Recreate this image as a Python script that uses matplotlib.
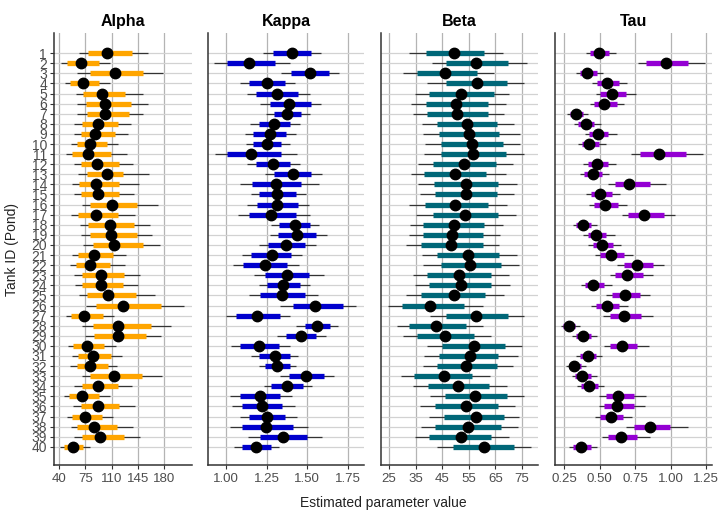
import matplotlib
matplotlib.use("Agg")
import matplotlib.pyplot as plt
import numpy as np

plt.rcParams['font.family'] = ['Liberation Sans', 'DejaVu Sans']

tanks = list(range(1, 41))

# Alpha: median, 50% and 95% intervals
alpha_med = [103.6, 69.3, 114.7, 72.0, 97.8, 101.8, 101.8, 92.4, 88.0, 81.8,
             79.1, 91.1, 103.6, 89.8, 91.6, 110.2, 88.9, 108.0, 108.9, 113.3,
             87.1, 81.8, 96.0, 96.0, 104.9, 125.8, 73.8, 119.1, 118.2, 77.3,
             85.3, 81.8, 112.9, 91.6, 70.2, 91.6, 74.7, 87.1, 94.7, 59.1]
alpha_lo50 = [78.2, 50.2, 81.3, 54.7, 72.4, 75.6, 76.9, 70.2, 68.9, 64.4,
              57.3, 68.9, 76.9, 66.7, 69.8, 81.3, 65.3, 79.1, 81.3, 85.8,
              65.8, 62.7, 71.1, 71.1, 77.8, 89.3, 56.0, 84.9, 87.1, 58.2,
              65.3, 63.6, 81.3, 70.2, 53.3, 69.3, 56.9, 64.4, 70.2, 47.1]
alpha_hi50 = [136.9, 93.3, 152.4, 93.3, 128.4, 136.0, 133.3, 118.2, 114.7, 103.6,
              109.3, 119.6, 125.8, 120.4, 120.4, 144.4, 118.2, 140.0, 143.6, 152.4,
              111.6, 108.0, 126.7, 125.8, 142.7, 176.0, 99.1, 162.7, 156.0, 100.4,
              108.9, 105.8, 150.2, 119.1, 93.3, 120.4, 96.9, 117.8, 127.1, 72.4]
alpha_lo95 = [66.7, 42.7, 63.6, 48.0, 62.7, 64.4, 64.4, 60.0, 60.0, 56.0,
              48.9, 60.0, 64.9, 56.9, 60.0, 70.2, 56.0, 68.0, 68.9, 72.4,
              56.9, 54.7, 60.0, 60.9, 67.1, 76.0, 49.3, 71.1, 74.7, 51.6,
              56.9, 54.7, 70.2, 60.0, 47.1, 59.1, 50.2, 55.6, 60.0, 41.3]
alpha_hi95 = [158.2, 108.0, 178.0, 108.0, 151.6, 158.0, 151.6, 135.6, 132.4, 118.2,
              130.2, 139.1, 160.0, 145.8, 140.0, 172.4, 141.3, 161.3, 164.4, 173.8,
              129.3, 128.0, 148.0, 144.9, 168.0, 206.7, 113.8, 188.9, 176.0, 116.0,
              123.6, 116.9, 176.9, 136.9, 108.0, 141.3, 112.4, 138.2, 148.0, 81.3]

# Kappa
kappa_med = [1.405, 1.143, 1.515, 1.252, 1.315, 1.387, 1.376, 1.299, 1.270, 1.254,
             1.157, 1.288, 1.411, 1.309, 1.315, 1.315, 1.280, 1.427, 1.436, 1.370,
             1.282, 1.241, 1.374, 1.354, 1.346, 1.548, 1.194, 1.562, 1.464, 1.202,
             1.301, 1.315, 1.495, 1.376, 1.213, 1.223, 1.256, 1.249, 1.354, 1.188]
kappa_lo50 = [1.290, 1.010, 1.403, 1.143, 1.184, 1.270, 1.294, 1.202, 1.168, 1.164,
              1.004, 1.184, 1.294, 1.162, 1.204, 1.194, 1.141, 1.327, 1.321, 1.260,
              1.157, 1.106, 1.239, 1.256, 1.209, 1.413, 1.061, 1.485, 1.368, 1.086,
              1.204, 1.243, 1.389, 1.280, 1.086, 1.102, 1.143, 1.102, 1.209, 1.102]
kappa_hi50 = [1.526, 1.300, 1.634, 1.362, 1.446, 1.526, 1.464, 1.397, 1.368, 1.342,
              1.337, 1.393, 1.526, 1.464, 1.429, 1.446, 1.434, 1.519, 1.556, 1.487,
              1.399, 1.376, 1.511, 1.458, 1.487, 1.720, 1.331, 1.642, 1.556, 1.325,
              1.393, 1.393, 1.601, 1.474, 1.331, 1.348, 1.366, 1.413, 1.499, 1.280]
kappa_lo95 = [1.229, 0.928, 1.342, 1.090, 1.133, 1.209, 1.249, 1.147, 1.117, 1.121,
              0.933, 1.131, 1.239, 1.086, 1.153, 1.127, 1.072, 1.280, 1.270, 1.204,
              1.100, 1.041, 1.172, 1.204, 1.143, 1.335, 1.000, 1.434, 1.315, 1.031,
              1.157, 1.204, 1.335, 1.235, 1.025, 1.035, 1.086, 1.025, 1.137, 1.051]
kappa_hi95 = [1.587, 1.393, 1.695, 1.423, 1.519, 1.587, 1.515, 1.454, 1.434, 1.397,
              1.438, 1.458, 1.593, 1.571, 1.491, 1.511, 1.519, 1.571, 1.624, 1.552,
              1.470, 1.448, 1.601, 1.515, 1.566, 1.802, 1.397, 1.689, 1.618, 1.397,
              1.446, 1.429, 1.663, 1.528, 1.407, 1.423, 1.440, 1.505, 1.593, 1.327]

# Beta
beta_med = [49.6, 57.7, 46.2, 58.0, 51.9, 50.2, 50.4, 54.2, 55.1, 56.1,
            56.7, 53.2, 49.7, 53.8, 53.8, 49.9, 53.6, 49.4, 48.8, 48.3,
            54.8, 55.5, 51.2, 52.1, 49.3, 40.5, 57.7, 42.7, 46.2, 56.8,
            55.5, 54.1, 45.6, 50.8, 57.5, 53.8, 57.6, 54.8, 52.2, 60.7]
beta_lo50 = [38.8, 46.4, 35.4, 46.4, 40.2, 38.8, 39.2, 42.9, 43.8, 44.5,
             44.5, 41.7, 38.3, 42.0, 42.3, 38.5, 41.7, 37.9, 37.7, 36.9,
             42.9, 44.4, 39.4, 40.2, 36.9, 29.8, 46.4, 32.5, 35.7, 45.0,
             43.9, 42.9, 34.4, 39.8, 46.0, 42.3, 45.7, 42.3, 40.2, 48.9]
beta_hi50 = [60.8, 69.9, 58.0, 69.5, 64.5, 62.1, 62.1, 65.5, 66.5, 68.0,
             68.9, 65.2, 61.5, 65.9, 65.5, 62.1, 65.9, 60.8, 60.2, 60.2,
             66.5, 67.1, 63.3, 63.3, 61.1, 53.3, 69.9, 53.9, 57.0, 68.6,
             66.1, 65.5, 56.1, 62.6, 69.5, 66.1, 68.2, 67.1, 63.3, 72.1]
beta_lo95 = [32.6, 41.0, 30.4, 39.4, 34.8, 33.3, 33.9, 37.3, 37.9, 38.5,
             38.3, 36.0, 33.3, 35.8, 36.7, 32.6, 35.2, 32.9, 32.6, 31.4,
             37.3, 37.9, 34.1, 34.8, 31.4, 24.7, 40.4, 27.9, 30.4, 39.4,
             38.3, 37.7, 29.4, 34.1, 40.4, 36.7, 40.2, 36.9, 34.8, 42.9]
beta_hi95 = [67.7, 76.8, 64.5, 75.8, 70.2, 69.0, 68.2, 72.0, 74.2, 74.2,
             75.9, 71.7, 69.0, 73.0, 72.0, 69.2, 72.7, 67.7, 66.7, 66.5,
             73.0, 74.0, 70.2, 70.5, 68.2, 60.2, 75.8, 60.5, 63.2, 74.9,
             73.4, 71.5, 63.0, 69.5, 75.8, 72.4, 74.0, 73.6, 70.2, 78.3]

# Tau
tau_med = [0.496, 0.964, 0.414, 0.550, 0.586, 0.529, 0.335, 0.403, 0.487, 0.424,
           0.919, 0.482, 0.452, 0.710, 0.504, 0.536, 0.813, 0.386, 0.475, 0.518,
           0.581, 0.762, 0.696, 0.457, 0.677, 0.550, 0.673, 0.288, 0.381, 0.661,
           0.417, 0.323, 0.374, 0.426, 0.628, 0.621, 0.579, 0.856, 0.651, 0.367]
tau_lo50 = [0.433, 0.827, 0.363, 0.480, 0.504, 0.461, 0.292, 0.351, 0.428, 0.374,
            0.781, 0.417, 0.393, 0.609, 0.440, 0.464, 0.698, 0.335, 0.417, 0.452,
            0.504, 0.673, 0.609, 0.398, 0.586, 0.475, 0.574, 0.245, 0.335, 0.574,
            0.363, 0.288, 0.327, 0.370, 0.543, 0.534, 0.504, 0.745, 0.558, 0.311]
tau_hi50 = [0.567, 1.119, 0.485, 0.640, 0.687, 0.621, 0.381, 0.461, 0.562, 0.499,
            1.107, 0.562, 0.520, 0.856, 0.586, 0.633, 0.954, 0.440, 0.543, 0.597,
            0.673, 0.879, 0.804, 0.534, 0.785, 0.637, 0.792, 0.327, 0.440, 0.762,
            0.473, 0.370, 0.440, 0.492, 0.743, 0.743, 0.668, 0.996, 0.766, 0.438]
tau_lo95 = [0.403, 0.773, 0.335, 0.445, 0.473, 0.433, 0.269, 0.320, 0.398, 0.346,
            0.720, 0.386, 0.363, 0.562, 0.403, 0.428, 0.656, 0.316, 0.386, 0.421,
            0.468, 0.621, 0.574, 0.370, 0.543, 0.440, 0.527, 0.227, 0.309, 0.532,
            0.332, 0.264, 0.309, 0.344, 0.499, 0.499, 0.468, 0.684, 0.515, 0.285]
tau_hi95 = [0.614, 1.238, 0.527, 0.696, 0.755, 0.673, 0.421, 0.511, 0.621, 0.543,
            1.227, 0.616, 0.567, 0.968, 0.644, 0.691, 1.032, 0.485, 0.609, 0.651,
            0.738, 0.954, 0.879, 0.586, 0.856, 0.703, 0.879, 0.363, 0.485, 0.844,
            0.515, 0.405, 0.485, 0.534, 0.827, 0.820, 0.727, 1.121, 0.851, 0.485]

titles = ['Alpha', 'Kappa', 'Beta', 'Tau']
colors = ['#FFA500', '#0000CD', '#006778', '#9400D3']
xticks = [[40, 75, 110, 145, 180], [1.00, 1.25, 1.50, 1.75],
          [25, 35, 45, 55, 65, 75], [0.25, 0.50, 0.75, 1.00, 1.25]]
xtick_labels = [['40', '75', '110', '145', '180'], ['1.00', '1.25', '1.50', '1.75'],
                ['25', '35', '45', '55', '65', '75'], ['0.25', '0.50', '0.75', '1.00', '1.25']]
xlims = [(33.3, 217), (0.89, 1.85), (22, 81), (0.187, 1.29)]

params = [
    (alpha_med, alpha_lo50, alpha_hi50, alpha_lo95, alpha_hi95),
    (kappa_med, kappa_lo50, kappa_hi50, kappa_lo95, kappa_hi95),
    (beta_med, beta_lo50, beta_hi50, beta_lo95, beta_hi95),
    (tau_med, tau_lo50, tau_hi50, tau_lo95, tau_hi95),
]

W, H = 718, 514
fig = plt.figure(figsize=(W / 100, H / 100), dpi=100)

lefts = [54, 208, 381, 555]
rights = [192, 364, 538, 712]
top, bottom = 33, 465

y = np.array(tanks)
for i, (med, lo50, hi50, lo95, hi95) in enumerate(params):
    ax = fig.add_axes([lefts[i] / W, 1 - bottom / H,
                       (rights[i] - lefts[i]) / W, (bottom - top) / H])
    # grid
    for t in xticks[i]:
        ax.axvline(t, color='#b4b4b4', lw=0.9, zorder=0)
    for t in tanks:
        ax.axhline(t, color='#d2d2d2', lw=0.9, zorder=0)

    ax.hlines(y, lo95, hi95, color='#333333', lw=0.9, zorder=1)
    ax.hlines(y, lo50, hi50, color=colors[i], lw=3.8, zorder=2)
    ax.plot(med, y, 'o', color='black', ms=7.5, zorder=3)

    ax.set_xlim(*xlims[i])
    ax.set_ylim(41.8, -1)
    ax.set_xticks(xticks[i])
    ax.set_xticklabels(xtick_labels[i], fontsize=9.5, color='#4d4d4d')
    ax.set_title(titles[i], fontsize=11.5, fontweight='bold', pad=5)

    for s in ['top', 'right']:
        ax.spines[s].set_visible(False)
    for s in ['left', 'bottom']:
        ax.spines[s].set_color('#333333')
        ax.spines[s].set_linewidth(1.1)
    ax.tick_params(axis='x', length=3, color='#333333', pad=3)
    if i == 0:
        ax.set_yticks(tanks)
        ax.set_yticklabels([str(t) for t in tanks], fontsize=10, color='#4d4d4d')
        ax.tick_params(axis='y', length=3, color='#333333', pad=2)
    else:
        ax.set_yticks([])

fig.text(12 / W, 1 - 249 / H, 'Tank ID (Pond)', rotation=90,
         ha='center', va='center', fontsize=10, color='#222222')
fig.text(383 / W, 1 - 503 / H, 'Estimated parameter value',
         ha='center', va='center', fontsize=10, color='#222222')

fig.savefig('out.png', dpi=100)
